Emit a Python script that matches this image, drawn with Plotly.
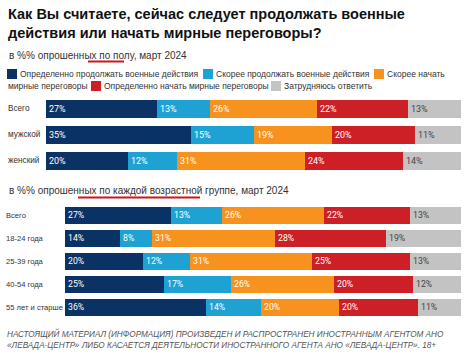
import plotly.graph_objects as go

W, H = 470, 357

series_names = [
    "Определенно продолжать военные действия",
    "Скорее продолжать военные действия",
    "Скорее начать мирные переговоры",
    "Определенно начать мирные переговоры",
    "Затрудняюсь ответить",
]
colors = ["#0b3265", "#1ea2d4", "#f7921e", "#cc1f26", "#c3c3c3"]
text_colors = ["white", "white", "white", "white", "#444444"]

gender_cats = ["Всего", "мужской", "женский"]
g_def_cont = [27, 35, 20]
g_rath_cont = [13, 15, 12]
g_rath_peace = [26, 19, 31]
g_def_peace = [22, 20, 24]
g_hard = [13, 11, 14]

age_cats = ["Всего", "18-24 года", "25-39 года", "40-54 года", "55 лет и старше"]
a_def_cont = [27, 14, 20, 25, 36]
a_rath_cont = [13, 8, 12, 17, 14]
a_rath_peace = [26, 31, 31, 26, 20]
a_def_peace = [22, 28, 25, 20, 20]
a_hard = [13, 19, 13, 12, 11]

title_text = "Как Вы считаете, сейчас следует продолжать военные<br>действия или начать мирные переговоры?"
sub1_text = "в %% опрошенных по полу, март 2024"
sub2_text = "в %% опрошенных по каждой возрастной группе, март 2024"
footnote_text = ("НАСТОЯЩИЙ МАТЕРИАЛ (ИНФОРМАЦИЯ) ПРОИЗВЕДЕН И РАСПРОСТРАНЕН ИНОСТРАННЫМ АГЕНТОМ АНО<br>"
                 "«ЛЕВАДА-ЦЕНТР» ЛИБО КАСАЕТСЯ ДЕЯТЕЛЬНОСТИ ИНОСТРАННОГО АГЕНТА АНО «ЛЕВАДА-ЦЕНТР». 18+")


def px(x):
    return x / W


def py(y):
    return 1 - y / H


FONT = "Liberation Sans"
LBL_FONT = "Roboto"

fig = go.Figure()

gender_series = [g_def_cont, g_rath_cont, g_rath_peace, g_def_peace, g_hard]
age_series = [a_def_cont, a_rath_cont, a_rath_peace, a_def_peace, a_hard]

for i, vals in enumerate(gender_series):
    fig.add_trace(go.Bar(
        orientation="h", x=vals, y=gender_cats, name=series_names[i],
        marker=dict(color=colors[i], line=dict(width=0)),
        text=[f"{v}%" for v in vals], textposition="inside", insidetextanchor="start",
        textfont=dict(color=text_colors[i], size=9, family=LBL_FONT),
        width=0.69, xaxis="x", yaxis="y", showlegend=False, hoverinfo="skip",
    ))

for i, vals in enumerate(age_series):
    fig.add_trace(go.Bar(
        orientation="h", x=vals, y=age_cats, name=series_names[i],
        marker=dict(color=colors[i], line=dict(width=0)),
        text=[f"{v}%" for v in vals], textposition="inside", insidetextanchor="start",
        textfont=dict(color=text_colors[i], size=8.7, family=LBL_FONT),
        width=0.7, xaxis="x2", yaxis="y2", showlegend=False, hoverinfo="skip",
    ))

annotations = []
shapes = []

# title
annotations.append(dict(text=title_text, x=px(6), y=py(4), xref="paper", yref="paper",
                        xanchor="left", yanchor="top", align="left", showarrow=False,
                        font=dict(family=FONT, size=14.5, color="#111111", weight="bold")))
# subtitles
annotations.append(dict(text=sub1_text, x=px(7), y=py(55), xref="paper", yref="paper",
                        xanchor="left", yanchor="middle", showarrow=False,
                        font=dict(family=FONT, size=10, color="#333333")))
shapes.append(dict(type="line", xref="paper", yref="paper", x0=px(88), x1=px(124),
                   y0=py(61.5), y1=py(61.5), line=dict(color="#d0141c", width=2)))
annotations.append(dict(text=sub2_text, x=px(7), y=py(190), xref="paper", yref="paper",
                        xanchor="left", yanchor="middle", showarrow=False,
                        font=dict(family=FONT, size=10, color="#333333")))
shapes.append(dict(type="line", xref="paper", yref="paper", x0=px(78), x1=px(200),
                   y0=py(197.5), y1=py(197.5), line=dict(color="#d0141c", width=2)))

# legend (manual, wrapped like the reference)
LEG_SIZE = 8.5
legend_items = [
    (7, 74, 0, series_names[0]),
    (203, 74, 1, series_names[1]),
    (374, 74, 2, "Скорее начать"),
    (91, 86, 3, series_names[3]),
    (271, 86, 4, series_names[4]),
]
for x0, yc, ci, txt in legend_items:
    shapes.append(dict(type="rect", xref="paper", yref="paper", x0=px(x0), x1=px(x0 + 10),
                       y0=py(yc + 5), y1=py(yc - 5), fillcolor=colors[ci], line=dict(width=0)))
    annotations.append(dict(text=txt, x=px(x0 + 11), y=py(yc), xref="paper", yref="paper",
                            xanchor="left", yanchor="middle", showarrow=False,
                            font=dict(family=FONT, size=LEG_SIZE, color="#333333")))
annotations.append(dict(text="мирные переговоры", x=px(6), y=py(86), xref="paper", yref="paper",
                        xanchor="left", yanchor="middle", showarrow=False,
                        font=dict(family=FONT, size=LEG_SIZE, color="#333333")))

# category labels
for c in gender_cats:
    annotations.append(dict(text=c, x=px(6), y=c, xref="paper", yref="y", xanchor="left",
                            yanchor="middle", showarrow=False,
                            font=dict(family=FONT, size=8.2, color="#333333")))
for c in age_cats:
    annotations.append(dict(text=c, x=px(4), y=c, xref="paper", yref="y2", xanchor="left",
                            yanchor="middle", showarrow=False,
                            font=dict(family=FONT, size=7.6, color="#333333")))

# footnote
annotations.append(dict(text=footnote_text, x=px(5), y=py(338.5), xref="paper", yref="paper",
                        xanchor="left", yanchor="middle", align="left", showarrow=False,
                        font=dict(family=FONT, size=8.2, color="#555555", style="italic")))

fig.update_layout(
    width=W, height=H, margin=dict(l=0, r=0, t=0, b=0),
    paper_bgcolor="white", plot_bgcolor="white",
    barmode="stack", barnorm="percent", bargap=0,
    xaxis=dict(domain=[px(46), px(461)], range=[0, 100], visible=False, fixedrange=True),
    yaxis=dict(domain=[py(174), py(96)], range=[2.5, -0.5], visible=False, anchor="x"),
    xaxis2=dict(domain=[px(65), px(461)], range=[0, 100], visible=False, anchor="y2"),
    yaxis2=dict(domain=[py(318.5), py(203.5)], range=[4.5, -0.5], visible=False, anchor="x2"),
    annotations=annotations, shapes=shapes,
)

fig.write_html("out.html", config={"displayModeBar": False},
               post_script="document.body.style.margin='0';document.body.style.overflow='hidden';")
